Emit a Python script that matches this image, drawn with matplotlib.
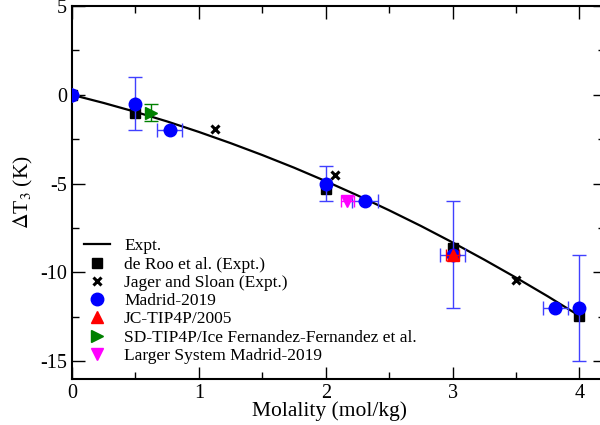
import matplotlib.pyplot as plt
from matplotlib.lines import Line2D
from matplotlib.ticker import MultipleLocator

plt.rcParams['font.family'] = ['Liberation Serif', 'DejaVu Serif']
plt.rcParams['mathtext.fontset'] = 'stix'
plt.rcParams['axes.unicode_minus'] = False

# experimental curve
expt_x = [0, 0.25, 0.5, 0.75, 1, 1.25, 1.5, 1.75, 2, 2.25, 2.5, 2.75, 3,
          3.25, 3.5, 3.75, 4]
expt_y = [0, -0.46, -0.96, -1.50, -2.09, -2.72, -3.39, -4.10, -4.86, -5.66,
          -6.50, -7.38, -8.31, -9.28, -10.29, -11.34, -12.44]

# de Roo et al.
roo_x = [0, 0.5, 2, 3, 4]
roo_y = [0, -1.05, -5.3, -8.6, -12.45]

# Jager and Sloan
jag_x = [1.13, 2.07, 3.5]
jag_y = [-1.95, -4.5, -10.45]

# Madrid-2019
mad_x = [0, 0.5, 0.77, 2, 2.31, 3, 3.81, 4]
mad_y = [0, -0.5, -2.0, -5.0, -6.0, -9.0, -12.0, -12.0]
mad_xerr = [0, 0, 0.1, 0, 0.1, 0.1, 0.1, 0]
mad_yerr = [0, 1.5, 0, 1.0, 0, 3.0, 0, 3.0]

# JC-TIP4P/2005
jc_x = [3]
jc_y = [-9.0]
jc_xerr = [0.05]

# SD-TIP4P/Ice
sd_x = [0.62]
sd_y = [-1.0]
sd_yerr = [0.5]

# Larger system Madrid-2019
big_x = [2.17]
big_y = [-6.0]
big_xerr = [0.05]

fig = plt.figure(figsize=(6, 4.25), dpi=100)
ax = fig.add_axes([0.12, 0.108, 0.888, 0.878])

ax.plot(expt_x, expt_y, 'k-', lw=1.6, zorder=2)
ax.plot(roo_x, roo_y, 's', color='black', ms=7, ls='none', zorder=3)
ax.plot(jag_x, jag_y, 'x', color='black', ms=6, mew=2.2, ls='none', zorder=3)
ax.errorbar(mad_x, mad_y, xerr=mad_xerr, yerr=mad_yerr, fmt='o', color='blue',
            ecolor='#4040ff', elinewidth=1, capsize=5, ms=9, zorder=4)
ax.errorbar(jc_x, jc_y, xerr=jc_xerr, fmt='^', color='red', ecolor='red',
            elinewidth=1, capsize=4, ms=8, zorder=5)
ax.errorbar(sd_x, sd_y, yerr=sd_yerr, fmt='>', color='green', ecolor='green',
            elinewidth=1, capsize=5, ms=8, zorder=5)
ax.errorbar(big_x, big_y, xerr=big_xerr, fmt='v', color='magenta',
            ecolor='magenta', elinewidth=1, capsize=4, ms=8, zorder=5)

ax.set_xlim(0, 4.2)
ax.set_ylim(-16, 5)
ax.xaxis.set_major_locator(MultipleLocator(1))
ax.xaxis.set_minor_locator(MultipleLocator(0.5))
ax.yaxis.set_major_locator(MultipleLocator(5))
ax.yaxis.set_minor_locator(MultipleLocator(2.5))
ax.tick_params(which='both', direction='in', top=True, right=True,
               labelsize=14.5, width=1)
ax.tick_params(which='major', length=9)
ax.tick_params(which='minor', length=5)
for s in ax.spines.values():
    s.set_linewidth(1.5)

ax.set_xlabel('Molality (mol/kg)', fontsize=15.5, labelpad=1)
ax.xaxis.set_label_coords(0.484, -0.06)
ax.set_ylabel(r'$\Delta$T$_3$ (K)', fontsize=15.5)

handles = [
    Line2D([], [], color='black', lw=1.6),
    Line2D([], [], marker='s', color='black', ms=7, ls='none'),
    Line2D([], [], marker='x', color='black', ms=6, mew=2.2, ls='none'),
    Line2D([], [], marker='o', color='blue', ms=9, ls='none'),
    Line2D([], [], marker='^', color='red', ms=8, ls='none'),
    Line2D([], [], marker='>', color='green', ms=8, ls='none'),
    Line2D([], [], marker='v', color='magenta', ms=8, ls='none'),
]
labels = ['Expt.', 'de Roo et al. (Expt.)', 'Jager and Sloan (Expt.)',
          'Madrid-2019', 'JC-TIP4P/2005',
          'SD-TIP4P/Ice Fernandez-Fernandez et al.',
          'Larger System Madrid-2019']
ax.legend(handles, labels, loc='upper left', bbox_to_anchor=(0.0, 0.41),
          frameon=False, fontsize=12.5, handlelength=1.5, handletextpad=0.8,
          labelspacing=0.12, borderaxespad=0.3)

fig.savefig('out.png', dpi=100)
